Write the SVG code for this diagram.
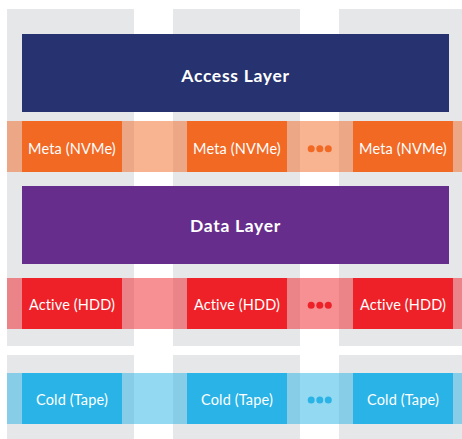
<svg xmlns="http://www.w3.org/2000/svg" width="462" height="439" viewBox="0 0 462 439">
  <style>
    .col { fill: #e6e7e9; }
    .lbl { font-family: Lato, "Open Sans", "Liberation Sans", sans-serif; fill: #ffffff; text-anchor: middle; }
    .layer { font-size: 17.5px; font-weight: bold; letter-spacing: 0.7px; }
    .box { font-size: 14.5px; letter-spacing: 0.15px; }
    .meta { fill: #f26924; }
    .active { fill: #ee2128; }
    .cold { fill: #29b3e6; }
    .band { opacity: 0.5; }
  </style>
  <rect width="462" height="439" fill="#ffffff"/>
  <g id="columns">
    <rect class="col" x="7" y="9" width="127" height="337"/>
    <rect class="col" x="173" y="9" width="127" height="337"/>
    <rect class="col" x="339" y="9" width="123" height="337"/>
    <rect class="col" x="7" y="355" width="127" height="84"/>
    <rect class="col" x="173" y="355" width="127" height="84"/>
    <rect class="col" x="339" y="355" width="123" height="84"/>
  </g>
  <g id="access-layer">
    <rect x="22" y="34" width="427" height="78" fill="#263370"/>
    <text class="lbl layer" x="235.5" y="82">Access Layer</text>
  </g>
  <g id="meta-tier">
    <rect class="meta band" x="7" y="121" width="455" height="51"/>
    <g id="meta-1">
      <rect class="meta" x="22" y="121" width="100" height="51"/>
      <text class="lbl box" x="72" y="154">Meta (NVMe)</text>
    </g>
    <g id="meta-2">
      <rect class="meta" x="187" y="121" width="100" height="51"/>
      <text class="lbl box" x="237" y="154">Meta (NVMe)</text>
    </g>
    <g id="meta-dots" class="meta">
      <circle cx="311.2" cy="148.7" r="3.5"/>
      <circle cx="319.8" cy="148.7" r="3.5"/>
      <circle cx="328.3" cy="148.7" r="3.5"/>
    </g>
    <g id="meta-3">
      <rect class="meta" x="353" y="121" width="100" height="51"/>
      <text class="lbl box" x="403" y="154">Meta (NVMe)</text>
    </g>
  </g>
  <g id="data-layer">
    <rect x="22" y="186" width="427" height="78" fill="#662d8c"/>
    <text class="lbl layer" x="235.5" y="231.5">Data Layer</text>
  </g>
  <g id="active-tier">
    <rect class="active band" x="7" y="278" width="455" height="51"/>
    <g id="active-1">
      <rect class="active" x="22" y="278" width="100" height="51"/>
      <text class="lbl box" x="72" y="310">Active (HDD)</text>
    </g>
    <g id="active-2">
      <rect class="active" x="187" y="278" width="100" height="51"/>
      <text class="lbl box" x="237" y="310">Active (HDD)</text>
    </g>
    <g id="active-dots" class="active">
      <circle cx="311.2" cy="305.3" r="3.5"/>
      <circle cx="319.8" cy="305.3" r="3.5"/>
      <circle cx="328.3" cy="305.3" r="3.5"/>
    </g>
    <g id="active-3">
      <rect class="active" x="353" y="278" width="100" height="51"/>
      <text class="lbl box" x="403" y="310">Active (HDD)</text>
    </g>
  </g>
  <g id="cold-tier">
    <rect class="cold band" x="7" y="373" width="455" height="51"/>
    <g id="cold-1">
      <rect class="cold" x="22" y="373" width="100" height="51"/>
      <text class="lbl box" x="72" y="405">Cold (Tape)</text>
    </g>
    <g id="cold-2">
      <rect class="cold" x="187" y="373" width="100" height="51"/>
      <text class="lbl box" x="237" y="405">Cold (Tape)</text>
    </g>
    <g id="cold-dots" class="cold">
      <circle cx="311.2" cy="400" r="3.5"/>
      <circle cx="319.8" cy="400" r="3.5"/>
      <circle cx="328.3" cy="400" r="3.5"/>
    </g>
    <g id="cold-3">
      <rect class="cold" x="353" y="373" width="100" height="51"/>
      <text class="lbl box" x="403" y="405">Cold (Tape)</text>
    </g>
  </g>
  <g id="connectors"/>
</svg>
